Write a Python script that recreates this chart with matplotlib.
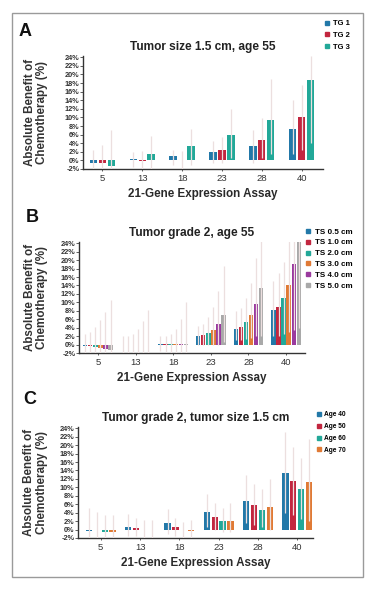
import matplotlib
matplotlib.use("Agg")
import matplotlib.pyplot as plt
from matplotlib.lines import Line2D
from matplotlib.patches import Rectangle
import numpy as np

plt.rcParams['font.family'] = ['Liberation Sans', 'DejaVu Sans']

# shared x categories (21-gene recurrence score)
scores = ["5", "13", "18", "23", "28", "40"]
y_ticks = list(range(-2, 25, 2))

# Panel A: tumor grade
a_labels = ["TG 1", "TG 2", "TG 3"]
a_vals = [
    [-0.5, 0.3, 1.0, 2.0, 3.3, 7.2],
    [-0.7, -0.1, 0.1, 2.4, 4.7, 10.0],
    [-1.2, 1.5, 3.3, 6.0, 9.3, 18.8],
]
a_hi = [
    [2.5, 2.0, 2.5, 4.5, 7.0, 14.0],
    [3.5, 2.3, 2.3, 5.5, 9.8, 17.5],
    [7.0, 5.7, 7.3, 12.0, 19.0, 24.3],
]
a_lo = [
    [-3.0, -1.5, -1.0, -0.5, -0.5, 1.5],
    [-4.0, -2.5, -2.2, -0.5, 0.5, 2.5],
    [-5.0, -2.5, -1.0, 0.5, 1.5, 4.0],
]

# Panel B: tumor size
b_labels = ["TS 0.5 cm", "TS 1.0 cm", "TS 2.0 cm", "TS 3.0 cm", "TS 4.0 cm", "TS 5.0 cm"]
b_vals = [
    [-0.3, 0.0, 0.2, 2.0, 3.8, 8.1],
    [-0.4, 0.0, 0.2, 2.2, 4.2, 8.8],
    [-0.5, 0.0, 0.1, 2.7, 5.3, 11.0],
    [-0.7, -0.1, 0.1, 3.4, 7.0, 14.1],
    [-1.0, -0.1, 0.1, 4.8, 9.7, 19.0],
    [-1.3, -0.2, 0.2, 7.0, 13.5, 24.5],
]
b_hi = [
    [2.5, 2.0, 2.0, 4.5, 8.0, 15.0],
    [3.0, 2.0, 2.0, 4.8, 8.7, 17.0],
    [4.2, 2.6, 2.6, 6.5, 11.0, 19.5],
    [5.8, 3.8, 3.6, 8.8, 14.5, 25.0],
    [7.8, 5.5, 6.0, 12.8, 20.5, 25.0],
    [10.5, 8.3, 10.2, 18.5, 25.0, 25.0],
]
b_lo = [
    [-2.5, -2.0, -1.5, 0.0, 1.0, 2.0],
    [-3.0, -2.2, -1.8, 0.0, 1.0, 2.0],
    [-3.5, -2.5, -2.0, 0.0, 1.2, 2.5],
    [-4.0, -3.0, -2.5, 0.0, 1.5, 3.0],
    [-5.0, -3.5, -3.0, 0.0, 2.0, 3.5],
    [-6.0, -4.0, -3.5, 0.5, 2.0, 4.0],
]

# Panel C: age
c_labels = ["Age 40", "Age 50", "Age 60", "Age 70"]
c_vals = [
    [-0.4, 0.5, 1.5, 4.1, 6.8, 13.3],
    [-0.2, 0.3, 0.5, 3.0, 5.8, 11.6],
    [-0.5, -0.1, -0.1, 2.0, 4.6, 9.5],
    [-0.5, -0.1, -0.4, 2.0, 5.4, 11.2],
]
c_hi = [
    [5.0, 3.8, 4.8, 8.5, 13.0, 23.0],
    [4.2, 2.8, 2.8, 6.3, 10.8, 19.5],
    [3.5, 2.2, 1.8, 5.2, 9.5, 17.0],
    [3.5, 2.2, 2.2, 6.2, 12.0, 21.5],
]
c_lo = [
    [-3.0, -1.5, -1.0, 0.5, 1.5, 4.0],
    [-2.5, -1.5, -1.5, 0.0, 1.0, 3.5],
    [-2.5, -2.0, -2.0, -0.5, 0.5, 2.5],
    [-3.0, -2.2, -2.5, -0.5, 0.0, 2.0],
]

blue, red, teal, orange, purple, grey = "#2278a8", "#c2263f", "#22a898", "#e07a35", "#9a3a9e", "#a9a9a9"
err_col = "#ecdfdf"

fig = plt.figure(figsize=(3.79, 5.91), dpi=100)
fig.patches.append(Rectangle((12 / 379, 1 - 577 / 591), 351 / 379, 564 / 591,
                             transform=fig.transFigure, fill=False,
                             edgecolor="#9a9a9a", linewidth=1.0))


def panel(rect, vals, hi, lo, labels, colors, width, step, xlim, title, letter,
          letter_xy, leg_xy, leg_size, leg_space, ylab_x):
    ax = fig.add_axes(rect)
    x = np.arange(len(scores))
    n = len(vals)
    for i in range(n):
        pos = x + (i - (n - 1) / 2) * step
        ax.bar(pos, vals[i], width=width, color=colors[i], zorder=2)
        ax.vlines(pos, lo[i], hi[i], color=err_col, linewidth=0.9, zorder=3)
    ax.set_xlim(*xlim)
    ax.set_ylim(-2, 24.3)
    ax.set_yticks(y_ticks)
    ax.set_yticklabels([f"{t}%" for t in y_ticks], fontsize=5.3, color="#333333",
                       fontweight="bold")
    ax.set_xticks(x)
    ax.set_xticklabels(scores, fontsize=6.8, color="#333333")
    ax.tick_params(axis="y", length=2, width=0.6, pad=0.6, color="#444444")
    ax.tick_params(axis="x", length=1.5, width=0.6, pad=2, color="#444444")
    for s in ["top", "right"]:
        ax.spines[s].set_visible(False)
    for s in ["left", "bottom"]:
        ax.spines[s].set_linewidth(1.0)
        ax.spines[s].set_color("#333333")
    ax.set_title(title, fontsize=8.6, fontweight="bold", pad=4, color="#222222")
    ax.set_xlabel("21-Gene Expression Assay", fontsize=8.4, fontweight="bold",
                  color="#2a2a2a", labelpad=3.5)
    ax.set_ylabel("Absolute Benefit of\nChemotherapy (%)", fontsize=8.4,
                  fontweight="bold", color="#333333", linespacing=1.05)
    ax.yaxis.set_label_coords(ylab_x, 0.5)
    fig.text(letter_xy[0], letter_xy[1], letter, fontsize=13, fontweight="bold",
             ha="center", va="center", color="#111111")
    handles = [Line2D([], [], marker="s", linestyle="", markersize=3.2,
                      color=colors[i], label=labels[i]) for i in range(n)]
    ax.legend(handles=handles, loc="upper left", bbox_to_anchor=leg_xy,
              bbox_transform=fig.transFigure, frameon=False,
              prop={"size": leg_size, "weight": "bold"}, handlelength=0.8,
              handletextpad=0.4, labelspacing=leg_space, borderaxespad=0,
              borderpad=0)
    return ax


panel([83 / 379, 1 - 169 / 591, 240 / 379, 113 / 591], a_vals, a_hi, a_lo,
      a_labels, [blue, red, teal], 0.18, 0.225, (-0.48, 5.53),
      "Tumor size 1.5 cm, age 55", "A", (25 / 379, 1 - 32 / 591),
      (324 / 379, 1 - 20 / 591), 5.5, 0.56, -0.145)

panel([79 / 379, 1 - 353 / 591, 226 / 379, 111 / 591], b_vals, b_hi, b_lo,
      b_labels, [blue, red, teal, orange, purple, grey], 0.12, 0.135,
      (-0.5, 5.5), "Tumor grade 2, age 55", "B", (32 / 379, 1 - 218 / 591),
      (305 / 379, 1 - 228 / 591), 5.8, 0.4, -0.137)

panel([78 / 379, 1 - 538 / 591, 235 / 379, 111 / 591], c_vals, c_hi, c_lo,
      c_labels, [blue, red, teal, orange], 0.16, 0.2, (-0.58, 5.4),
      "Tumor grade 2, tumor size 1.5 cm", "C", (30 / 379, 1 - 400 / 591),
      (316 / 379, 1 - 411 / 591), 4.8, 0.74, -0.128)

fig.savefig("out.png", dpi=100)
